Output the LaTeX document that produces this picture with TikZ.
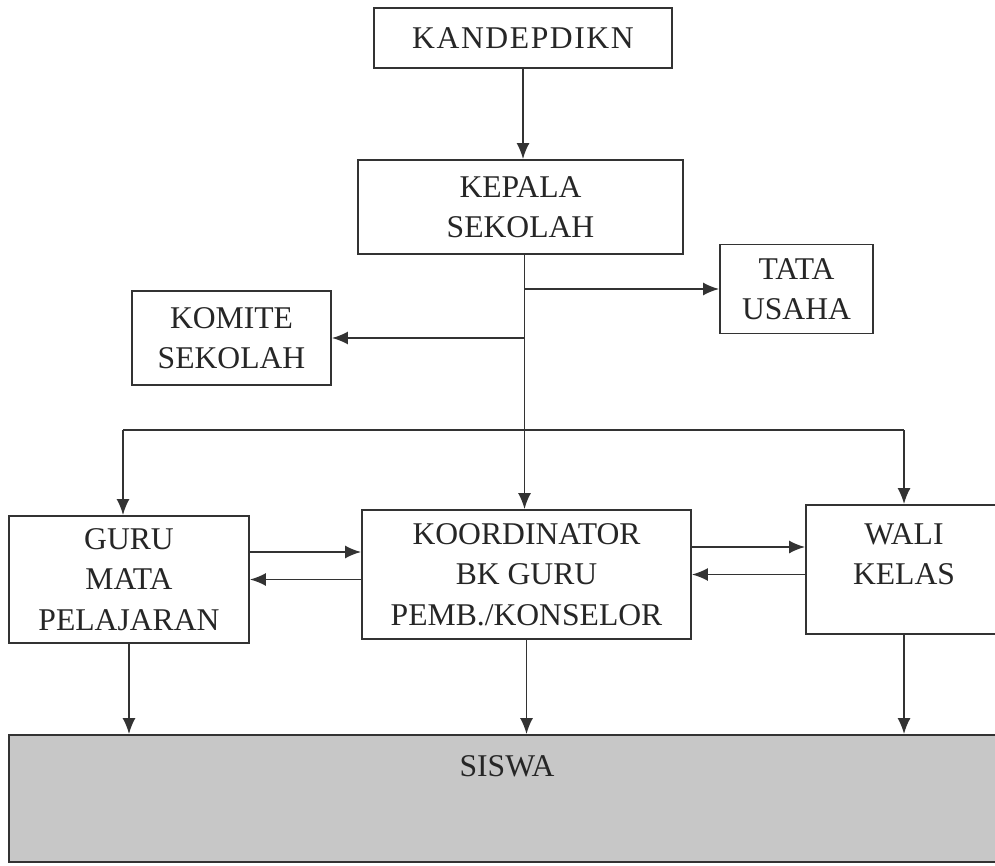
\documentclass[tikz,border=0pt]{standalone}
\usepackage{fontspec}
\setmainfont{Liberation Serif}
\usetikzlibrary{arrows.meta}

\begin{document}
\begin{tikzpicture}[
  every node/.style={font=\fontsize{18}{23}\selectfont, text=black!85},
  unit/.style={draw=black!80, line width=1pt, fill=white, align=center, inner sep=2pt},
  link/.style={black!80, line width=1.1pt},
  flow/.style={link, -{Latex[length=3.2mm, width=2.6mm]}},
  pupils/.style={draw=black!80, line width=1pt, fill=black!22},
]
\useasboundingbox (0,0) rectangle (19.9,-17.3);

% ================================================================
% Boxes
% ================================================================
\node[unit, minimum width=5.96cm, minimum height=1.2cm]  (kand)   at (10.46,-0.76)
  {\addfontfeature{LetterSpace=5}KANDEPDIKN};
\node[unit, minimum width=6.5cm,  minimum height=1.88cm] (kepala) at (10.41,-4.14)  {KEPALA\\SEKOLAH};
\node[unit, minimum width=3.06cm, minimum height=1.78cm] (tata)   at (15.93,-5.78)  {TATA\\USAHA};
\node[unit, minimum width=3.98cm, minimum height=1.88cm] (komite) at (4.63,-6.76)   {KOMITE\\SEKOLAH};

\node[unit, minimum width=4.8cm,  minimum height=2.54cm] (guru)   at (2.58,-11.59)  {GURU\\MATA\\PELAJARAN};
\node[unit, minimum width=6.58cm, minimum height=2.58cm] (koord)  at (10.53,-11.49) {KOORDINATOR\\BK GURU\\PEMB./KONSELOR};
\node[unit, minimum width=3.92cm, minimum height=2.58cm] (wali)   at (18.08,-11.39) {};
\node[align=center] (walitext) at ([yshift=-1.0cm]wali.north) {WALI\\KELAS};

\node[pupils, minimum width=19.92cm, minimum height=2.54cm] (siswa) at (10.14,-15.97) {};
\node (siswatext) at ([yshift=-0.64cm]siswa.north) {SISWA};

% ================================================================
% Lines of command
% ================================================================
\draw[flow] (kand.south) -- (kand.south |- kepala.north);

% trunk from the head of school
\coordinate (trunk)   at ([xshift=0.08cm]kepala.south);
\coordinate (jtata)   at (trunk |- tata.west);
\coordinate (jkomite) at (trunk |- komite.east);
\coordinate (busl)    at (2.46,-8.6);
\coordinate (busr)    at (wali.north |- busl);
\draw[flow] (trunk) -- (trunk |- koord.north);
\draw[flow] (jtata) -- (tata.west);
\draw[flow] (jkomite) -- (komite.east);

% bus to the teachers
\draw[link] (busl) -- (busr);
\draw[flow] (busl) -- (busl |- guru.north);
\draw[flow] (busr) -- (wali.north);

% --- Two-way links ---
\draw[flow] ([yshift=0.55cm]guru.east) -- ([yshift=0.55cm]guru.east -| koord.west);
\draw[flow] (koord.west |- guru.east) -- (guru.east);
\draw[flow] ([yshift=0.55cm]koord.east) -- ([yshift=0.55cm]koord.east -| wali.west);
\draw[flow] (wali.west |- koord.east) -- (koord.east);

% --- Down to the pupils ---
\foreach \src in {guru, koord, wali}
  \draw[flow] (\src.south) -- (\src.south |- siswa.north);

\end{tikzpicture}
\end{document}
